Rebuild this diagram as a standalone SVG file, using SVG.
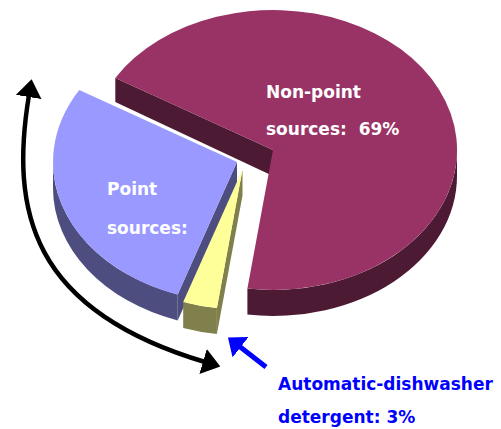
<svg xmlns="http://www.w3.org/2000/svg" width="501" height="429" viewBox="0 0 501 429">
<style>
.lbl{font-family:"DejaVu Sans","Liberation Sans",sans-serif;font-weight:bold;font-size:17px;white-space:pre}
.w{fill:#ffffff}
.b{fill:#0000ff}
.mt{fill:#993366}.ms{fill:#4d1a33}
.bt{fill:#9999ff}.bs{fill:#4d4d80}
.yt{fill:#ffff99}.ys{fill:#80804d}
</style>
<defs>
<marker id="ahK" viewBox="0 0 18 26" refX="2" refY="13" markerWidth="18" markerHeight="26" markerUnits="userSpaceOnUse" orient="auto-start-reverse">
<path d="M0,0 L18,13 L0,26 Z" fill="#000000"/>
</marker>
<marker id="ahB" viewBox="0 0 16 26" refX="2" refY="13" markerWidth="16" markerHeight="26" markerUnits="userSpaceOnUse" orient="auto">
<path d="M0,0 L16,13 L0,26 Z" fill="#0000ff"/>
</marker>
</defs>
<g id="nonpoint">
<path class="ms" d="M457,150 A184 140 0 0 1 247.4,288.6 L247.4,314.6 A184 140 0 0 0 457,176 Z"/>
<path class="ms" d="M115.3,77.9 L273,150 L273,176 L115.3,101.9 Z"/>
<path class="mt" d="M273,150 L115.3,77.9 A184 140 0 1 1 247.4,288.6 Z"/>
<text class="lbl w" x="266" y="98">Non-point</text>
<text class="lbl w" x="266" y="135">sources:  69%</text>
</g>
<g id="point">
<path class="bs" d="M53,162 A184 140 0 0 0 177.7,294.5 L177.7,320.5 A184 140 0 0 1 53,188 Z"/>
<path class="bs" d="M237,162 L177.7,294.5 L177.7,320.5 L237,188 Z"/>
<path class="bt" d="M237,162 L177.7,294.5 A184 140 0 0 1 79.3,89.9 Z"/>
<text class="lbl w" x="107" y="195">Point</text>
<text class="lbl w" x="107" y="234">sources:</text>
</g>
<g id="detergent">
<path class="ys" d="M183.2,302 A184 140 0 0 0 216.9,308.1 L216.9,334.1 A184 140 0 0 1 183.2,328 Z"/>
<path class="ys" d="M242.5,169.5 L216.9,308.1 L216.9,334.1 L242.5,195.5 Z"/>
<path class="yt" d="M242.5,169.5 L216.9,308.1 A184 140 0 0 1 183.2,302 Z"/>
<text class="lbl b" x="278" y="390">Automatic-dishwasher</text>
<text class="lbl b" x="278" y="423">detergent: 3%</text>
</g>
<g id="connectors">
<path d="M29,95 C10,210 30,310 205,362" fill="none" stroke="#000000" stroke-width="4.5" marker-start="url(#ahK)" marker-end="url(#ahK)"/>
<path d="M266,367 L239,346" fill="none" stroke="#0000ff" stroke-width="5" marker-end="url(#ahB)"/>
</g>
</svg>
